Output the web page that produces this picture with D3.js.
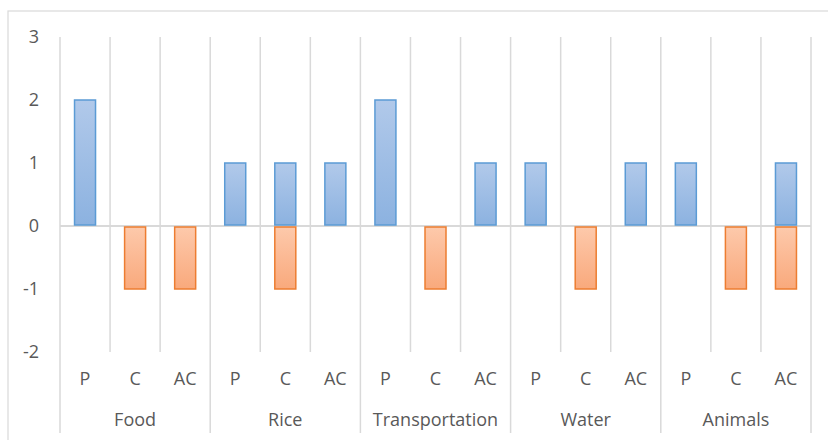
<!DOCTYPE html>
<html>
<head>
<meta charset="utf-8">
<script src="https://cdn.jsdelivr.net/npm/d3@7"></script>
<style>
  html, body { margin: 0; padding: 0; background: #fff; }
  svg { display: block; font-family: "Open Sans", "Noto Sans", sans-serif; }
</style>
</head>
<body>
<svg id="chart" width="828" height="440"></svg>
<script>
// Categories: five topics, each split into P / C / AC
const groups = ["Food", "Rice", "Transportation", "Water", "Animals"];
const subs = ["P", "C", "AC"];
// Positive series (blue) and negative series (orange), in group-by-sub order
const positive = [2, 0, 0, 1, 1, 1, 2, 0, 1, 1, 0, 1, 1, 0, 1];
const negative = [0, -1, -1, 0, -1, 0, 0, -1, 0, 0, -1, 0, 0, -1, -1];
const yTicks = [-2, -1, 0, 1, 2, 3];

(function () {
  const svg = d3.select("#chart");
  const W = 828, H = 440;
  const plotLeft = 60, plotRight = 811, plotTop = 37, plotBottom = 352;

  // Chart frame
  svg.append("rect")
    .attr("x", 8).attr("y", 11).attr("width", W + 10).attr("height", H + 10)
    .attr("fill", "none").attr("stroke", "#d9d9d9").attr("stroke-width", 1.2);

  const keys = [];
  groups.forEach(g => subs.forEach(s => keys.push(g + "|" + s)));

  const x = d3.scaleBand().domain(keys).range([plotLeft, plotRight]).paddingInner(0).paddingOuter(0);
  const y = d3.scaleLinear().domain([-2, 3]).range([plotBottom, plotTop]);

  // Gradients
  const defs = svg.append("defs");
  const gb = defs.append("linearGradient").attr("id", "gBlue").attr("x1", 0).attr("y1", 0).attr("x2", 0).attr("y2", 1);
  gb.append("stop").attr("offset", "0%").attr("stop-color", "#b1c9ea");
  gb.append("stop").attr("offset", "100%").attr("stop-color", "#8cb2e0");
  const go = defs.append("linearGradient").attr("id", "gOrange").attr("x1", 0).attr("y1", 0).attr("x2", 0).attr("y2", 1);
  go.append("stop").attr("offset", "0%").attr("stop-color", "#fdc9ab");
  go.append("stop").attr("offset", "100%").attr("stop-color", "#f9a97c");

  // Vertical gridlines between categories; group boundaries run down through the labels
  const bounds = keys.map(k => x(k)).concat([plotRight]);
  svg.append("g").selectAll("line").data(bounds).join("line")
    .attr("x1", d => d).attr("x2", d => d)
    .attr("y1", plotTop)
    .attr("y2", (d, i) => (i % 3 === 0) ? 433 : plotBottom)
    .attr("stroke", "#d9d9d9").attr("stroke-width", 1.5);

  // Zero line
  svg.append("line")
    .attr("x1", plotLeft).attr("x2", plotRight)
    .attr("y1", y(0)).attr("y2", y(0))
    .attr("stroke", "#d9d9d9").attr("stroke-width", 2);

  // Y axis labels (plain hyphen for negatives)
  const yAxis = d3.axisLeft(y).tickValues(yTicks).tickSize(0).tickPadding(0).tickFormat(d => String(d));
  const ya = svg.append("g").attr("transform", "translate(39,0)").call(yAxis);
  ya.select(".domain").remove();
  ya.selectAll("text").attr("fill", "#595959").attr("font-size", 18).attr("font-family", "'Open Sans', 'Noto Sans', sans-serif");

  const barW = 21;
  const bars = svg.append("g");
  bars.selectAll("rect.pos").data(keys.map((k, i) => ({ k, v: positive[i] })).filter(d => d.v !== 0)).join("rect")
    .attr("class", "pos")
    .attr("x", d => x(d.k) + x.bandwidth() / 2 - barW / 2)
    .attr("width", barW)
    .attr("y", d => y(d.v))
    .attr("height", d => y(0) - y(d.v) - 1)
    .attr("fill", "url(#gBlue)").attr("stroke", "#5b9bd5").attr("stroke-width", 1.5);
  bars.selectAll("rect.neg").data(keys.map((k, i) => ({ k, v: negative[i] })).filter(d => d.v !== 0)).join("rect")
    .attr("class", "neg")
    .attr("x", d => x(d.k) + x.bandwidth() / 2 - barW / 2)
    .attr("width", barW)
    .attr("y", y(0) + 1)
    .attr("height", d => y(d.v) - y(0) - 1)
    .attr("fill", "url(#gOrange)").attr("stroke", "#ed7d31").attr("stroke-width", 1.5);

  // Sub-category labels
  svg.append("g").selectAll("text").data(keys).join("text")
    .attr("x", d => x(d) + x.bandwidth() / 2)
    .attr("y", 385)
    .attr("text-anchor", "middle")
    .attr("fill", "#595959").attr("font-size", 18)
    .text(d => d.split("|")[1]);

  // Group labels
  svg.append("g").selectAll("text").data(groups).join("text")
    .attr("x", g => (x(g + "|P") + x(g + "|AC") + x.bandwidth()) / 2)
    .attr("y", 426)
    .attr("text-anchor", "middle")
    .attr("fill", "#595959").attr("font-size", 18)
    .text(d => d);
})();
</script>
</body>
</html>
